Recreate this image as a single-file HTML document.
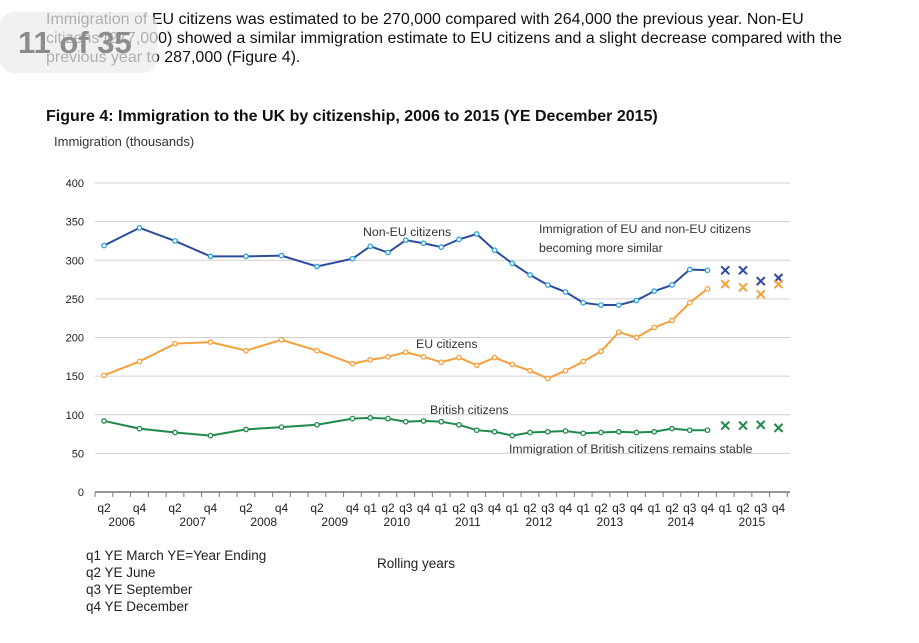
<!DOCTYPE html>
<html><head><meta charset="utf-8"><style>
body{margin:0;width:919px;height:643px;background:#fff;overflow:hidden;font-family:"Liberation Sans",sans-serif;position:relative}
.p{position:absolute;left:46px;font-size:16px;color:#111;line-height:19px;white-space:nowrap}
</style></head><body>
<div class="p" style="top:10px">Immigration of EU citizens was estimated to be 270,000 compared with 264,000 the previous year. Non-EU<br>citizens (277,000) showed a similar immigration estimate to EU citizens and a slight decrease compared with the<br>previous year to 287,000 (Figure 4).</div>
<div style="position:absolute;left:0;top:12px;width:157px;height:61px;border-radius:14px;background:rgba(236,236,236,0.72);color:#8c8c8c;font-size:31px;font-weight:bold;line-height:61px;text-indent:18px">11 of 35</div>
<div class="p" style="top:107px;font-weight:bold;font-size:16px">Figure 4: Immigration to the UK by citizenship, 2006 to 2015 (YE December 2015)</div>
<svg id="c" width="919" height="643" style="position:absolute;left:0;top:0" font-family="Liberation Sans, sans-serif"></svg>
<script>
const nonEU=[319,342,325,305,305,306,292,302,318,310,326,322,317,327,334,313,296,281,268,259,245,242,242,248,260,268,288,287];
const eu=[151,169,192,194,183,197,183,166,171,175,181,175,168,174,164,174,165,157,147,157,169,182,207,200,213,222,245,263];
const british=[92,82,77,73,81,84,87,95,96,95,91,92,91,87,80,78,73,77,78,79,76,77,78,77,78,82,80,80];
const nonEU2015=[287,287,273,277];
const eu2015=[269,265,256,269];
const british2015=[86,86,87,83];
const yTicks=[0,50,100,150,200,250,300,350,400];
const xLabels=["q2","q4","q2","q4","q2","q4","q2","q4","q1","q2","q3","q4","q1","q2","q3","q4","q1","q2","q3","q4","q1","q2","q3","q4","q1","q2","q3","q4","q1","q2","q3","q4"];
const years=["2006","2007","2008","2009","2010","2011","2012","2013","2014","2015"];
const NS="http://www.w3.org/2000/svg",svg=document.getElementById('c');
function slot(i){return i<8?i*2:i+7;}
const x=s=>104+s*17.75, y=v=>492-v*0.7725;
function el(t,a,txt){const e=document.createElementNS(NS,t);for(const k in a)e.setAttribute(k,a[k]);if(txt!=null)e.textContent=txt;svg.appendChild(e);return e;}
let e=el('text',{x:54,y:146,'font-size':13,fill:'#333'},'Immigration (thousands)');

yTicks.forEach(v=>{
 if(v>0){e=el('line',{x1:95,x2:790,y1:y(v),y2:y(v),stroke:'#d0d0d0','stroke-width':1});}
 e=el('text',{x:84,y:y(v)+4,'font-size':11,'text-anchor':'end',fill:'#222'},v);
 
});
e=el('line',{x1:95,x2:790,y1:492,y2:492,stroke:'#777','stroke-width':1.5});
for(let k=0;k<=39;k++){e=el('line',{x1:x(k)-8.9,x2:x(k)-8.9,y1:492,y2:497,stroke:'#777'});}
xLabels.forEach((l,i)=>{e=el('text',{x:x(i<28?slot(i):i+7),y:512,'font-size':12,'text-anchor':'middle',fill:'#222'},l);});
const yearSlot=[1,5,9,13,16.5,20.5,24.5,28.5,32.5,36.5];
years.forEach((t,i)=>{e=el('text',{x:x(yearSlot[i]),y:526,'font-size':12,'text-anchor':'middle',fill:'#222'},t);});
function series(d,d15,lc,mc,name){
 const pts=d.map((v,i)=>x(slot(i))+','+y(v)).join(' ');
 e=el('polyline',{points:pts,fill:'none',stroke:lc,'stroke-width':2});
 d.forEach((v,i)=>{e=el('circle',{cx:x(slot(i)),cy:y(v),r:2.2,fill:'#fff',stroke:mc,'stroke-width':1.3});});
 d15.forEach((v,i)=>{const cx=x(35+i),cy=y(v);e=el('path',{d:`M${cx-4},${cy-4}L${cx+4},${cy+4}M${cx+4},${cy-4}L${cx-4},${cy+4}`,stroke:lc,'stroke-width':2});});
}
series(nonEU,nonEU2015,'#2e4a9e','#29a3dd','non-eu');
series(eu,eu2015,'#f5a03c','#f5a03c','eu');
series(british,british2015,'#1e8a4a','#1e8a4a','british');
function lab(t,xx,yy,n){e=el('text',{x:xx,y:yy,'font-size':12.3,fill:'#333'},t);}
lab('Non-EU citizens',363,236,'non-eu-label');
lab('EU citizens',416,348,'eu-label');
lab('British citizens',430,414,'british-label');
lab('Immigration of EU and non-EU citizens',539,233,'annotation-similar');
lab('becoming more similar',539,252,'annotation-similar-2');
lab('Immigration of British citizens remains stable',509,453,'annotation-stable');
function note(t,xx,yy,n){e=el('text',{x:xx,y:yy,'font-size':13.5,fill:'#222'},t);}
note('q1 YE March   YE=Year Ending',86,560,'legend-q1');
note('q2 YE June',86,577,'legend-q2');
note('q3 YE September',86,594,'legend-q3');
note('q4 YE December',86,611,'legend-q4');
note('Rolling years',377,568,'x-axis-title');
</script>
</body></html>
